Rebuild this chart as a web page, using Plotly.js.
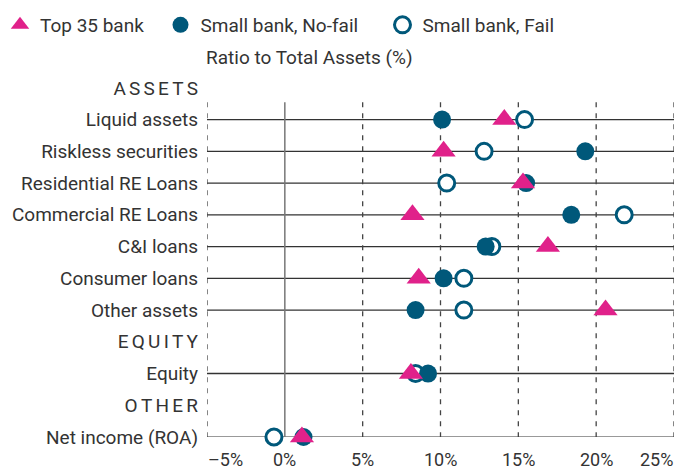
<!DOCTYPE html>
<html>
<head>
<meta charset="utf-8">
<script src="https://cdn.plot.ly/plotly-3.0.1.min.js"></script>
<style>html,body{margin:0;padding:0;background:#fff;}#chart{width:676px;height:470px;}</style>
</head>
<body>
<div id="chart"></div>
<script>
// Categories (top to bottom). Section headers have no data.
const rows = ["ASSETS","Liquid assets","Riskless securities","Residential RE Loans","Commercial RE Loans","C&I loans","Consumer loans","Other assets","EQUITY","Equity","OTHER","Net income (ROA)"];
const headers = ["ASSETS","EQUITY","OTHER"];
const dataRows = ["Liquid assets","Riskless securities","Residential RE Loans","Commercial RE Loans","C&I loans","Consumer loans","Other assets","Equity","Net income (ROA)"];

// Series values (% of total assets), same order as dataRows
const top35 =       [14.1, 10.2, 15.3,  8.2, 16.9,  8.6, 20.6, 8.1, 1.1];
const smallNoFail = [10.1, 19.3, 15.5, 18.4, 12.9, 10.2,  8.4, 9.2, 1.2];
const smallFail =   [15.4, 12.8, 10.4, 21.8, 13.3, 11.5, 11.5, 8.4, -0.7];

// Axis ticks
const xTickVals = [-5, 0, 5, 10, 15, 20, 25];
const xTickText = ["\u20135%", "0%", "5%", "10%", "15%", "20%", "25%"];

const PINK = "#E0218A", TEAL = "#00587A", TXT = "#333333";
const FONT = "Roboto, 'Noto Sans', sans-serif";
const FS = 19;

function spaced(s){ return s.split("").join("\u2006"); }
const yTickText = rows.map(r => headers.includes(r) ? spaced(r) : r);

const traces = [
  {type:"scatter", mode:"markers", name:"Small bank, Fail", x:smallFail, y:dataRows,
   marker:{symbol:"circle", size:16, color:"#ffffff", line:{color:TEAL, width:3}},
   legend:"legend3", cliponaxis:false},
  {type:"scatter", mode:"markers", name:"Small bank, No-fail", x:smallNoFail, y:dataRows,
   marker:{symbol:"circle", size:18, color:TEAL, line:{width:0}},
   legend:"legend2", cliponaxis:false},
  {type:"scatter", mode:"markers", name:"Top 35 bank", x:top35, y:dataRows,
   marker:{symbol:"triangle-up", size:21, color:PINK, line:{width:0}},
   legend:"legend", cliponaxis:false}
];

const shapes = [];
// Horizontal row lines for data rows
dataRows.forEach(r => {
  const idx = rows.indexOf(r);
  shapes.push({type:"line", xref:"x", yref:"y", x0:-5, x1:25, y0:idx, y1:idx,
    line:{color: r === "Net income (ROA)" ? "#777777" : "#333333", width:1.3}, layer:"below"});
});
// Vertical gridlines
xTickVals.forEach(v => {
  shapes.push({type:"line", xref:"x", yref:"y", x0:v, x1:v, y0:0.45, y1:rows.length-1,
    line: v === 0 ? {color:"#777777", width:1.5} : {color:"#444444", width:1.3, dash:"5px,6px"},
    layer:"below"});
});

const annotations = xTickVals.map((v,i) => ({
  xref:"x", yref:"paper", x:v, y:0, yanchor:"middle", yshift:-22, borderpad:0,
  xanchor: i === 0 ? "left" : (i === xTickVals.length-1 ? "right" : "center"),
  text: xTickText[i], showarrow:false, font:{family:FONT, size:18, color:TXT}
}));
annotations.push({xref:"paper", yref:"paper", x:(309-207)/467, y:(437-58)/365, xanchor:"center", yanchor:"middle",
  text:"Ratio to Total Assets (%)", showarrow:false, font:{family:FONT, size:FS, color:TXT}});

const legBase = {orientation:"h", yref:"container", xref:"container", yanchor:"middle", y:1-25/470,
  font:{family:FONT, size:FS, color:TXT}, bgcolor:"rgba(0,0,0,0)", borderwidth:0};

const layout = {
  width:676, height:470,
  margin:{l:207, r:2, t:72, b:33, pad:0},
  paper_bgcolor:"#ffffff", plot_bgcolor:"#ffffff",
  font:{family:FONT, size:FS, color:TXT},
  showlegend:true,
  legend: Object.assign({}, legBase, {x:0/676}),
  legend2: Object.assign({}, legBase, {x:160.5/676}),
  legend3: Object.assign({}, legBase, {x:382.5/676}),
  xaxis:{range:[-5,25], showgrid:false, zeroline:false, showline:false, showticklabels:false, ticks:"", fixedrange:true},
  yaxis:{type:"category", categoryorder:"array", categoryarray:rows, range:[rows.length-1, -0.5],
    tickmode:"array", tickvals:rows, ticktext:yTickText, showgrid:false, zeroline:false, showline:false,
    ticks:"", ticklabelstandoff:8, tickfont:{family:FONT, size:FS, color:TXT}, fixedrange:true},
  shapes:shapes,
  annotations:annotations
};

Plotly.newPlot("chart", traces, layout, {displayModeBar:false, staticPlot:true});
</script>
</body>
</html>
